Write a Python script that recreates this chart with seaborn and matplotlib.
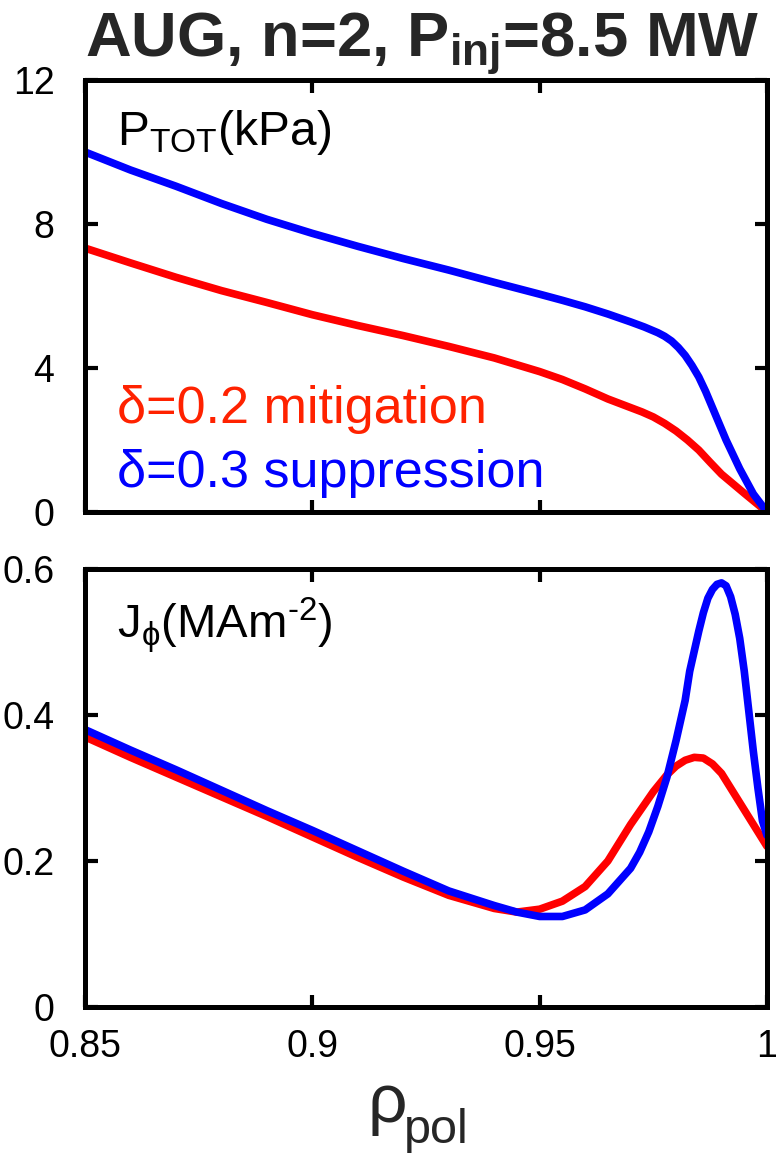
import matplotlib
matplotlib.use("Agg")
import matplotlib.pyplot as plt
import seaborn as sns
import pandas as pd
from matplotlib import font_manager

# ---------------- data ----------------
rho_p_blue = [0.85, 0.86, 0.87, 0.88, 0.89, 0.90, 0.91, 0.92, 0.93, 0.94, 0.95, 0.955,
              0.96, 0.965, 0.97, 0.973, 0.976, 0.9775, 0.979, 0.9805, 0.982, 0.9835,
              0.985, 0.9865, 0.988, 0.991, 0.994, 0.997, 1.0]
p_blue = [10.0, 9.5, 9.05, 8.57, 8.13, 7.74, 7.38, 7.04, 6.72, 6.38, 6.05, 5.88,
          5.70, 5.50, 5.28, 5.14, 4.98, 4.88, 4.75, 4.57, 4.35, 4.07,
          3.75, 3.35, 2.90, 2.00, 1.20, 0.50, 0.0]

rho_p_red = [0.85, 0.86, 0.87, 0.88, 0.89, 0.90, 0.91, 0.92, 0.93, 0.94, 0.95, 0.955,
             0.96, 0.965, 0.97, 0.9725, 0.975, 0.9775, 0.98, 0.9825, 0.985, 0.9875,
             0.99, 0.995, 1.0]
p_red = [7.33, 6.92, 6.52, 6.15, 5.82, 5.48, 5.18, 4.90, 4.60, 4.28, 3.90, 3.68,
         3.42, 3.14, 2.90, 2.78, 2.64, 2.46, 2.25, 2.00, 1.72, 1.38,
         1.05, 0.52, 0.0]

rho_j_blue = [0.85, 0.86, 0.87, 0.88, 0.89, 0.90, 0.91, 0.92, 0.93, 0.94, 0.945, 0.95,
              0.955, 0.96, 0.965, 0.97, 0.972, 0.974, 0.976, 0.978, 0.980, 0.982,
              0.983, 0.985, 0.986, 0.987, 0.988, 0.989, 0.990, 0.991, 0.992, 0.993,
              0.994, 0.995, 0.996, 0.997, 0.998, 0.999, 1.0]
j_blue = [0.380, 0.352, 0.325, 0.297, 0.269, 0.242, 0.214, 0.186, 0.159, 0.139, 0.130, 0.124,
          0.124, 0.133, 0.155, 0.190, 0.212, 0.240, 0.275, 0.315, 0.365, 0.420,
          0.460, 0.515, 0.540, 0.560, 0.572, 0.579, 0.581, 0.577, 0.562, 0.538,
          0.505, 0.460, 0.405, 0.350, 0.300, 0.255, 0.235]

rho_j_red = [0.85, 0.86, 0.87, 0.88, 0.89, 0.90, 0.91, 0.92, 0.93, 0.94, 0.945, 0.95,
             0.955, 0.96, 0.965, 0.97, 0.975, 0.978, 0.980, 0.982, 0.984, 0.986,
             0.988, 0.990, 0.992, 0.994, 0.997, 1.0]
j_red = [0.370, 0.342, 0.315, 0.288, 0.261, 0.233, 0.205, 0.178, 0.153, 0.135, 0.130, 0.134,
         0.145, 0.165, 0.200, 0.250, 0.295, 0.318, 0.330, 0.338, 0.342, 0.341,
         0.333, 0.320, 0.300, 0.280, 0.250, 0.220]

x_ticks = [0.85, 0.9, 0.95, 1.0]
x_tick_labels = ["0.85", "0.9", "0.95", "1"]
p_ticks = [0, 4, 8, 12]
j_ticks = [0, 0.2, 0.4, 0.6]
j_tick_labels = ["0", "0.2", "0.4", "0.6"]

title = r"AUG, n=2, P$_{\mathbf{inj}}$=8.5 MW"
label_red = "\u03b4=0.2 mitigation"
label_blue = "\u03b4=0.3 suppression"

# ---------------- style ----------------
sns.set_theme(style="ticks")
avail = {f.name for f in font_manager.fontManager.ttflist}
narrow = "Liberation Sans Narrow" if "Liberation Sans Narrow" in avail else "Liberation Sans"
plt.rcParams["font.family"] = ["Liberation Sans", "DejaVu Sans"]
plt.rcParams["mathtext.fontset"] = "custom"
plt.rcParams["mathtext.rm"] = "Liberation Sans"
plt.rcParams["mathtext.it"] = "Liberation Sans"
plt.rcParams["mathtext.bf"] = narrow + ":bold"

RED = "#ff0000"
BLUE = "#0000ff"
LW = 5.5

fig = plt.figure(figsize=(7.83, 11.59), dpi=100)
W, H = 783, 1159
def ax_rect(l, r, t, b):
    return [l / W, 1 - b / H, (r - l) / W, (b - t) / H]

ax1 = fig.add_axes(ax_rect(85, 767, 80, 512))
ax2 = fig.add_axes(ax_rect(85, 767, 569, 1007))

df_pb = pd.DataFrame({"rho": rho_p_blue, "val": p_blue})
df_pr = pd.DataFrame({"rho": rho_p_red, "val": p_red})
df_jb = pd.DataFrame({"rho": rho_j_blue, "val": j_blue})
df_jr = pd.DataFrame({"rho": rho_j_red, "val": j_red})

kw = dict(lw=LW, sort=False, solid_joinstyle="round", solid_capstyle="round")
sns.lineplot(data=df_pr, x="rho", y="val", ax=ax1, color=RED, **kw)
sns.lineplot(data=df_pb, x="rho", y="val", ax=ax1, color=BLUE, **kw)
sns.lineplot(data=df_jr, x="rho", y="val", ax=ax2, color=RED, **kw)
sns.lineplot(data=df_jb, x="rho", y="val", ax=ax2, color=BLUE, **kw)

for ax in (ax1, ax2):
    ax.set_xlim(0.85, 1.0)
    ax.set_xlabel("")
    ax.set_ylabel("")
    for s in ax.spines.values():
        s.set_visible(True)
        s.set_linewidth(3.6)
        s.set_color("black")
        s.set_zorder(5)
    ax.tick_params(direction="in", length=9, width=3, top=True, right=True,
                   colors="black", labelsize=27, pad=20)
    ax.set_xticks(x_ticks)

ax1.set_ylim(0, 12)
ax1.set_yticks(p_ticks)
ax1.set_xticklabels([])
ax2.set_ylim(0, 0.6)
ax2.set_yticks(j_ticks)
ax2.set_yticklabels(j_tick_labels)
ax2.set_xticklabels(x_tick_labels)
ax1.tick_params(axis="y", pad=22)
ax2.tick_params(axis="y", pad=22)
ax2.tick_params(axis="x", pad=16)
for ax in (ax1, ax2):
    for lab in ax.get_xticklabels() + ax.get_yticklabels():
        lab.set_family([narrow, "DejaVu Sans"])

# texts
def fx(px):
    return px / W
def fy(py):
    return 1 - py / H

fig.text(fx(117), fy(145), r"P$_{\mathrm{TOT}}$(kPa)", fontsize=34.5, color="black",
         ha="left", va="baseline")
fig.text(fx(117), fy(638), r"J$_{\phi}$(MAm$^{\mathrm{‐2}}$)", fontsize=34, color="black",
         ha="left", va="baseline")
fig.text(fx(117), fy(423), label_red, fontsize=37.5, color="#ff2200", ha="left", va="baseline")
fig.text(fx(117), fy(487), label_blue, fontsize=37.5, color=BLUE, ha="left", va="baseline")
fig.text(fx(422), fy(56), title, fontsize=45.5, fontweight="bold", family=[narrow, "DejaVu Sans"],
         ha="center", va="baseline")
fig.text(fx(368), fy(1122), "\u03c1", fontsize=50, ha="left", va="baseline")
fig.text(fx(404), fy(1143), "pol", fontsize=35, ha="left", va="baseline")

fig.savefig("out.png", dpi=100)
